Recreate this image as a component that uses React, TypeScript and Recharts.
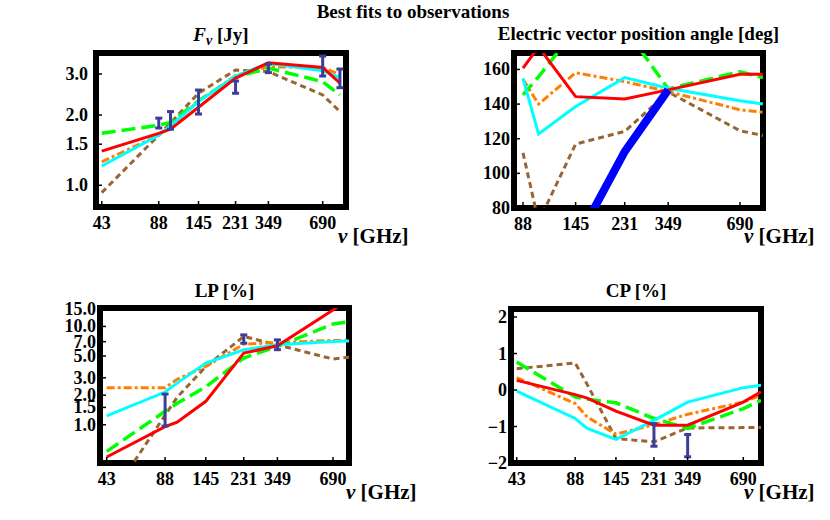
import React from 'react';
import { ComposedChart, Line, Scatter, ErrorBar, XAxis, YAxis } from 'recharts';

const FONT = '"Liberation Serif", "Times New Roman", serif';

// ---------- shared frequency grids / ticks ----------
const modelFreqs = [43, 88, 102, 145, 231, 349, 690, 857];
const evpaFreqs = [88, 102, 145, 231, 349, 690, 857];
const freqTicks = [43, 88, 145, 231, 349, 690];
const evpaFreqTicks = [88, 145, 231, 349, 690];

// ---------- F_nu [Jy] ----------
const fluxBrown = [0.93, 1.64, 1.85, 2.48, 3.12, 3.07, 2.44, 2.07];
const fluxOrange = [1.26, 1.64, 1.78, 2.3, 2.95, 3.22, 3.2, 2.98];
const fluxGreen = [1.67, 1.81, 1.86, 2.3, 2.91, 3.18, 2.78, 2.44];
const fluxCyan = [1.21, 1.64, 1.8, 2.28, 2.94, 3.33, 3.1, 2.89];
const fluxRed = [1.4, 1.67, 1.74, 2.16, 2.88, 3.35, 3.2, 2.74];
const fluxObsFreq = [88, 102, 145, 231, 349, 690, 857];
const fluxObsVal = [1.85, 1.9, 2.28, 2.64, 3.17, 3.24, 2.87];
const fluxObsLo = [1.76, 1.74, 2.02, 2.48, 3.04, 2.94, 2.62];
const fluxObsHi = [1.94, 2.07, 2.56, 2.8, 3.31, 3.58, 3.15];
const fluxTicks = [1.0, 1.5, 2.0, 3.0];

// ---------- EVPA [deg] ----------
const evpaBrown = [111.8, 72, 116.9, 124.2, 147, 124.6, 121.9];
const evpaOrange = [154.3, 140, 158.1, 153, 147.2, 136.7, 135.3];
const evpaGreen = [145.3, 155.8, 183, 184, 148.8, 158.7, 155.3];
const evpaCyan = [154.9, 122.7, 138.6, 155.3, 149.1, 141.9, 140];
const evpaRed = [160.7, 173, 144.3, 143, 148.2, 157.2, 157.2];
const evpaObsFreq = [145, 231, 349];
const evpaObsVal = [60, 112.5, 148.2];
const evpaTicks = [80, 100, 120, 140, 160];

// ---------- LP [%] ----------
const lpBrown = [0.16, 1.25, 1.9, 3.9, 7.91, 6.5, 4.66, 4.88];
const lpOrange = [2.38, 2.38, 2.9, 3.92, 6.6, 6.86, 7.2, 7.2];
const lpGreen = [0.535, 1.37, 1.65, 2.43, 4.77, 6.26, 10.6, 11.2];
const lpCyan = [1.23, 2.15, 2.65, 4.24, 5.79, 6.51, 7.03, 7.1];
const lpRed = [0.47, 0.955, 1.06, 1.73, 5.36, 6.35, 14.7, 19.5];
const lpObsFreq = [88, 231, 349];
const lpObsVal = [1.42, 7.45, 6.5];
const lpObsLo = [0.97, 6.75, 5.8];
const lpObsHi = [2.05, 8.2, 7.3];
const lpTicks = [1.0, 1.5, 2.0, 3.0, 5.0, 7.0, 10.0, 15.0];

// ---------- CP [%] ----------
const cpBrown = [0.585, 0.74, 0.15, -1.33, -1.42, -1.04, -1.03, -1.03];
const cpOrange = [0.34, -0.37, -0.74, -1.21, -0.95, -0.665, -0.33, -0.145];
const cpGreen = [0.765, -0.19, -0.25, -0.35, -0.78, -1.05, -0.51, -0.28];
const cpCyan = [-0.03, -0.78, -1.05, -1.355, -0.83, -0.33, 0.065, 0.13];
const cpRed = [0.265, -0.126, -0.22, -0.58, -0.965, -0.965, -0.33, -0.05];
const cpObsFreq = [231, 349];
const cpObsVal = [-1.23, -1.52];
const cpObsLo = [-1.54, -1.83];
const cpObsHi = [-0.92, -1.22];
const cpTicks = [-2, -1, 0, 1, 2];

// ---------- styles ----------
const SERIES = [
  { key: 'brown', stroke: '#996633', width: 3, dash: '6 4' },
  { key: 'orange', stroke: '#ff8000', width: 3, dash: '8 3 3 3' },
  { key: 'green', stroke: '#00ff00', width: 3.5, dash: '14 6' },
  { key: 'cyan', stroke: '#00ffff', width: 3, dash: undefined },
  { key: 'red', stroke: '#ff0000', width: 3, dash: undefined },
];
const OBS_COLOR = '#3c3c9a';

type Box = { left: number; right: number; top: number; bottom: number };

function buildRows(freqs: number[], s: number[][]) {
  return freqs.map((f, i) => ({ f, brown: s[0][i], orange: s[1][i], green: s[2][i], cyan: s[3][i], red: s[4][i] }));
}

function buildObs(freqs: number[], vals: number[], lo?: number[], hi?: number[]) {
  return freqs.map((f, i) => ({
    f,
    v: vals[i],
    err: lo && hi ? [vals[i] - lo[i], hi[i] - vals[i]] : [0, 0],
  }));
}

const fmt1 = (v: number) => v.toFixed(1);
const fmtInt = (v: number) => String(v);
const fmtSigned = (v: number) => (v < 0 ? '\u2212' + Math.abs(v) : String(v));

const makeXTick = (col: string) => (props: any) => {
  const { x, y, payload } = props;
  return (
    <g>
      <line x1={x} x2={x} y1={y - 2} y2={y - 6} stroke={col} strokeWidth={1.5} />
      <text x={x} y={y + 22} textAnchor="middle" fontFamily={FONT} fontWeight="bold" fontSize={18} fill="#000">
        {payload.value}
      </text>
    </g>
  );
};

const makeYTick = (fmt: (v: number) => string, gap: number, col: string) => (props: any) => {
  const { x, y, payload } = props;
  return (
    <g>
      <line x1={x + 2} x2={x + 6} y1={y} y2={y} stroke={col} strokeWidth={1.5} />
      <text x={x - gap} y={y + 6} textAnchor="end" fontFamily={FONT} fontWeight="bold" fontSize={18} fill="#000">
        {fmt(payload.value)}
      </text>
    </g>
  );
};

type PanelCfg = {
  rows: any[];
  obs?: any[];
  blue?: any[];
  box: Box;
  xDomain: [number, number];
  xTicks: number[];
  yDomain: [number, number];
  yTicks: number[];
  yScale: 'log' | 'linear';
  fmt: (v: number) => string;
  gap: number;
  title: React.ReactNode;
  titleY: number;
  nuX: number;
  nuY: number;
  frameColor: string;
  frameWidth: number;
  children?: React.ReactNode;
};

function Panel(cfg: PanelCfg) {
  const { rows, obs, blue, box, xDomain, xTicks, yDomain, yTicks, yScale, fmt, gap, title, titleY, nuX, nuY } = cfg;
  const YW = 40;
  const XH = 30;
  const cx = (box.left + box.right) / 2;
  return (
    <div style={{ position: 'absolute', left: 0, top: 0, width: 830, height: 520 }}>
      <ComposedChart
        width={830}
        height={520}
        data={rows}
        margin={{ top: box.top, left: box.left - YW, right: 830 - box.right, bottom: 520 - box.bottom - XH }}
      >
        <XAxis dataKey="f" type="number" scale="log" domain={xDomain} ticks={xTicks} interval={0} allowDataOverflow
          axisLine={false} tickLine={false} tickSize={0} tickMargin={0} height={XH} tick={makeXTick(cfg.frameColor)} />
        <YAxis type="number" scale={yScale} domain={yDomain} ticks={yTicks} interval={0} allowDataOverflow
          axisLine={false} tickLine={false} tickSize={0} tickMargin={0} width={YW} tick={makeYTick(fmt, gap, cfg.frameColor)} />
        {SERIES.map((s) => (
          <Line key={s.key} dataKey={s.key} type="linear" stroke={s.stroke} strokeWidth={s.width} strokeDasharray={s.dash}
            dot={false} activeDot={false} isAnimationActive={false} />
        ))}
        {blue && (
          <Line data={blue} dataKey="v" type="linear" stroke="#0000ff" strokeWidth={8} dot={false} activeDot={false} isAnimationActive={false} />
        )}
        {obs && (
          <Scatter data={obs} dataKey="v" shape={() => <g />} isAnimationActive={false}>
            <ErrorBar dataKey="err" direction="y" width={3.5} stroke={OBS_COLOR} strokeWidth={3} isAnimationActive={false} />
          </Scatter>
        )}
        <rect x={box.left} y={box.top} width={box.right - box.left} height={box.bottom - box.top}
          fill="none" stroke={cfg.frameColor} strokeWidth={cfg.frameWidth} />
        <text x={cx} y={titleY} textAnchor="middle" fontFamily={FONT} fontWeight="bold" fontSize={19} fill="#000">
          {title}
        </text>
        <text x={nuX} y={nuY} fontFamily={FONT} fontWeight="bold" fontSize={21} fill="#000">
          <tspan fontStyle="italic">{'\u03BD'}</tspan>
          {' [GHz]'}
        </text>
        {cfg.children}
      </ComposedChart>
    </div>
  );
}

export default function App() {
  const fluxRows = buildRows(modelFreqs, [fluxBrown, fluxOrange, fluxGreen, fluxCyan, fluxRed]);
  const evpaRows = buildRows(evpaFreqs, [evpaBrown, evpaOrange, evpaGreen, evpaCyan, evpaRed]);
  const lpRows = buildRows(modelFreqs, [lpBrown, lpOrange, lpGreen, lpCyan, lpRed]);
  const cpRows = buildRows(modelFreqs, [cpBrown, cpOrange, cpGreen, cpCyan, cpRed]);

  return (
    <div style={{ position: 'absolute', left: 0, top: 0, width: 830, height: 520, background: '#fff' }}>
      <Panel rows={fluxRows} obs={buildObs(fluxObsFreq, fluxObsVal, fluxObsLo, fluxObsHi)}
        box={{ left: 96, right: 346, top: 53, bottom: 207 }} xDomain={[40, 925]} xTicks={freqTicks}
        yDomain={[0.807, 3.69]} yTicks={fluxTicks} yScale="log" fmt={fmt1} gap={8}
        frameColor="#000000" frameWidth={6}
        title={<><tspan fontStyle="italic">F</tspan><tspan fontStyle="italic" fontSize={14} dy={4}>{'\u03BD'}</tspan><tspan dy={-4}>{' [Jy]'}</tspan></>}
        titleY={41} nuX={338} nuY={243}>
        <text x={413} y={18} textAnchor="middle" fontFamily={FONT} fontWeight="bold" fontSize={19} fill="#000">
          Best fits to observations
        </text>
      </Panel>
      <Panel rows={evpaRows} blue={buildObs(evpaObsFreq, evpaObsVal)}
        box={{ left: 514, right: 763, top: 53, bottom: 208 }} xDomain={[80.8, 858]} xTicks={evpaFreqTicks}
        yDomain={[80, 169.5]} yTicks={evpaTicks} yScale="linear" fmt={fmtInt} gap={4}
        frameColor="#000000" frameWidth={6}
        title="Electric vector position angle [deg]" titleY={40} nuX={744} nuY={243} />
      <Panel rows={lpRows} obs={buildObs(lpObsFreq, lpObsVal, lpObsLo, lpObsHi)}
        box={{ left: 100, right: 349, top: 308, bottom: 463 }} xDomain={[39.6, 840]} xTicks={freqTicks}
        yDomain={[0.408, 15.4]} yTicks={lpTicks} yScale="log" fmt={fmt1} gap={4}
        frameColor="#000000" frameWidth={6}
        title="LP [%]" titleY={297} nuX={346} nuY={499} />
      <Panel rows={cpRows} obs={buildObs(cpObsFreq, cpObsVal, cpObsLo, cpObsHi)}
        box={{ left: 511, right: 761, top: 309, bottom: 463 }} xDomain={[40.1, 857]} xTicks={freqTicks}
        yDomain={[-2, 2.22]} yTicks={cpTicks} yScale="linear" fmt={fmtSigned} gap={4}
        frameColor="#000000" frameWidth={6}
        title="CP [%]" titleY={297} nuX={744} nuY={499} />
    </div>
  );
}
